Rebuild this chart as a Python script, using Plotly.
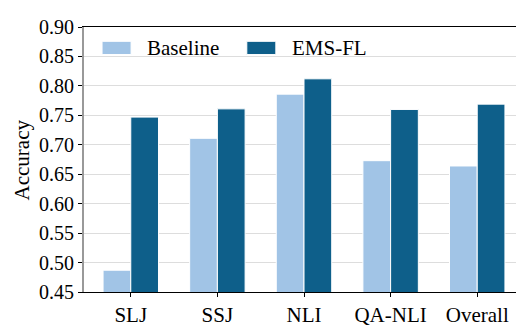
import plotly.graph_objects as go

categories = ['SLJ', 'SSJ', 'NLI', 'QA-NLI', 'Overall']
baseline = [0.487, 0.711, 0.786, 0.673, 0.664]
ems_fl = [0.747, 0.761, 0.812, 0.760, 0.769]

font = 'Liberation Serif, Times New Roman, serif'
c_base = '#a1c4e6'
c_ems = '#0e5f8a'

fig = go.Figure()
fig.add_trace(go.Bar(
    x=categories, y=baseline, name='Baseline', showlegend=False,
    marker=dict(color=c_base, line=dict(color='white', width=1)),
))
fig.add_trace(go.Bar(
    x=categories, y=ems_fl, name='EMS-FL', showlegend=False,
    marker=dict(color=c_ems, line=dict(color='white', width=1)),
))

fig.update_layout(
    width=524, height=327,
    margin=dict(l=76, r=8, t=14, b=34),
    barmode='group', bargap=0.36, bargroupgap=0,
    plot_bgcolor='white', paper_bgcolor='white',
    font=dict(family=font, size=21, color='black'),
    xaxis=dict(
        range=[-0.54, 4.54], showline=True, linecolor='black', linewidth=1,
        mirror=True, ticks='outside', ticklen=4, tickcolor='black',
        showgrid=False, tickfont=dict(family=font, size=21),
    ),
    yaxis=dict(
        range=[0.45, 0.90], dtick=0.05, tickformat='.2f',
        tickfont=dict(family=font, size=20),
        showline=True, linecolor='#999999', linewidth=2,
        ticks='outside', ticklen=4, tickcolor='black',
        showgrid=True, gridcolor='#dddddd', gridwidth=1, zeroline=False,
    ),
)

# y title
fig.add_annotation(text='Accuracy', xref='paper', yref='paper', x=-0.141, y=0.5,
                   xanchor='center', yanchor='middle',
                   textangle=-90, showarrow=False, font=dict(size=21))

# legend drawn by hand (larger swatches like the original)
for label, color, x0 in [('Baseline', c_base, 0.041), ('EMS-FL', c_ems, 0.370)]:
    fig.add_shape(type='rect', xref='paper', yref='paper',
                  x0=x0, x1=x0 + 0.066, y0=0.896, y1=0.946,
                  fillcolor=color, line=dict(color='white', width=1))
    fig.add_annotation(text=label, xref='paper', yref='paper', x=x0 + 0.098, y=0.921,
                       xanchor='left', yanchor='middle', showarrow=False,
                       font=dict(size=21))

# right-hand frame line
fig.add_shape(type='line', xref='paper', yref='paper', x0=1, x1=1, y0=0, y1=1,
              line=dict(color='black', width=1))

fig.write_html('out.html')
